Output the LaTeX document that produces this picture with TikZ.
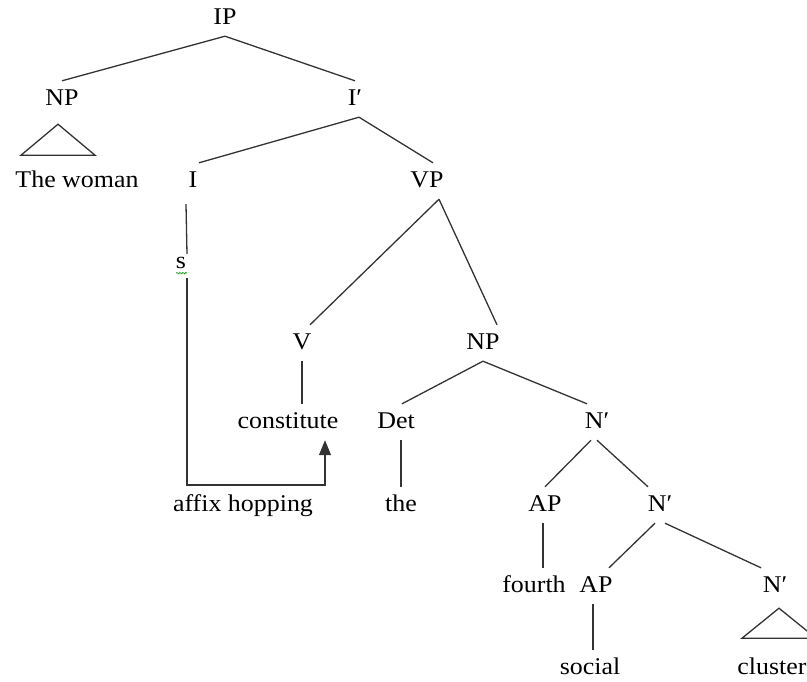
\documentclass[tikz,border=0pt]{standalone}
\usepackage{fontspec}
\setmainfont[FakeStretch=1.08]{Liberation Serif}
\usetikzlibrary{arrows.meta,decorations.pathmorphing}
\tikzstyle{cat} = [inner sep=0pt, inner ysep=7pt, text height=17pt, text depth=5pt, font=\fontsize{24}{28}\selectfont]
\tikzstyle{branch} = [line width=1.3pt, draw=black!80]
\tikzstyle{spell} = [draw=green!60!black, line width=0.6pt, decorate, decoration={snake, amplitude=0.8pt, segment length=3pt}]

\begin{document}
\begin{tikzpicture}[x=1pt, y=-1pt]
	\useasboundingbox (0,0) rectangle (807,681);
	\clip (0,0) rectangle (807,681);
	% labels
	\node (IP) [cat] at (225,18) {IP};
	\node (NP_SUBJ) [cat] at (62,99) {NP};
	\node (IBAR) [cat] at (355,99) {I′};
	\node (WOMAN) [cat] at (77,181) {The woman};
	\node (I_HEAD) [cat] at (193,181) {I};
	\node (VP) [cat] at (427,181) {VP};
	\node (S_AFFIX) [cat] at (181,262) {s};
	\node (V_HEAD) [cat] at (302,343) {V};
	\node (NP_OBJ) [cat] at (483,343) {NP};
	\node (CONSTITUTE) [cat] at (288,422) {constitute};
	\node (DET) [cat] at (396,422) {Det};
	\node (NBAR_1) [cat] at (597,422) {N′};
	\node (HOPPING) [cat] at (243,505) {affix hopping};
	\node (THE) [cat] at (401,505) {the};
	\node (AP_1) [cat] at (545,505) {AP};
	\node (NBAR_2) [cat] at (660,505) {N′};
	\node (FOURTH) [cat] at (534,586) {fourth};
	\node (AP_2) [cat] at (596,586) {AP};
	\node (NBAR_3) [cat] at (775,586) {N′};
	\node (SOCIAL) [cat] at (590,668) {social};
	\node (CLUSTER) [cat] at (772,668) {cluster};
	\coordinate (HOP_L) at (187,485);
	\coordinate (HOP_R) at (325,485);
	% branches
	\draw[branch] (IP.south) -- (NP_SUBJ.north);
	\draw[branch] (IP.south) -- (IBAR.north);
	\draw[branch] ([xshift=4pt]IBAR.south) -- ([xshift=6pt]I_HEAD.north);
	\draw[branch] ([xshift=4pt]IBAR.south) -- ([xshift=6pt]VP.north);
	\draw[branch] ([xshift=-7pt,yshift=-5pt]I_HEAD.south) -- ([xshift=6pt,yshift=-10pt]S_AFFIX.north);
	\draw[branch] ([xshift=12pt]VP.south) -- ([xshift=8pt]V_HEAD.north);
	\draw[branch] ([xshift=12pt]VP.south) -- ([xshift=14pt]NP_OBJ.north);
	\draw[branch] (V_HEAD.south) -- (V_HEAD.south |- CONSTITUTE.north);
	\draw[branch] (NP_OBJ.south) -- ([xshift=6pt]DET.north);
	\draw[branch] (NP_OBJ.south) -- ([xshift=-10pt]NBAR_1.north);
	\draw[branch] ([xshift=5pt]DET.south) -- ([xshift=5pt]DET.south |- THE.north);
	\draw[branch] ([xshift=-6pt]NBAR_1.south) -- (AP_1.north);
	\draw[branch] (NBAR_1.south) -- ([xshift=-12pt]NBAR_2.north);
	\draw[branch] ([xshift=-2pt]AP_1.south) -- ([xshift=-2pt]AP_1.south |- FOURTH.north);
	\draw[branch] ([xshift=-5pt]NBAR_2.south) -- ([xshift=13pt]AP_2.north);
	\draw[branch] ([xshift=5pt]NBAR_2.south) -- ([xshift=-14pt]NBAR_3.north);
	\draw[branch] ([xshift=-3pt]AP_2.south) -- ([xshift=-3pt]AP_2.south |- SOCIAL.north);
	% roofs
	\draw[branch] ([xshift=-4pt,yshift=-7pt]NP_SUBJ.south) -- ++(-37,31) -- ++(74,0) -- cycle;
	\draw[branch] ([xshift=4pt,yshift=-4pt]NBAR_3.south) -- ++(-37,30) -- ++(74,0) -- cycle;
	% affix hopping
	\draw[branch, -{Triangle[width=12pt,length=15pt]}] ([yshift=2pt]S_AFFIX.south -| HOP_L) -- (HOP_L) -- (HOP_R) -- (CONSTITUTE.south -| HOP_R);
	\draw[spell] ([xshift=-5pt,yshift=7pt]S_AFFIX.south) -- ++(11,0);
\end{tikzpicture}
\end{document}
